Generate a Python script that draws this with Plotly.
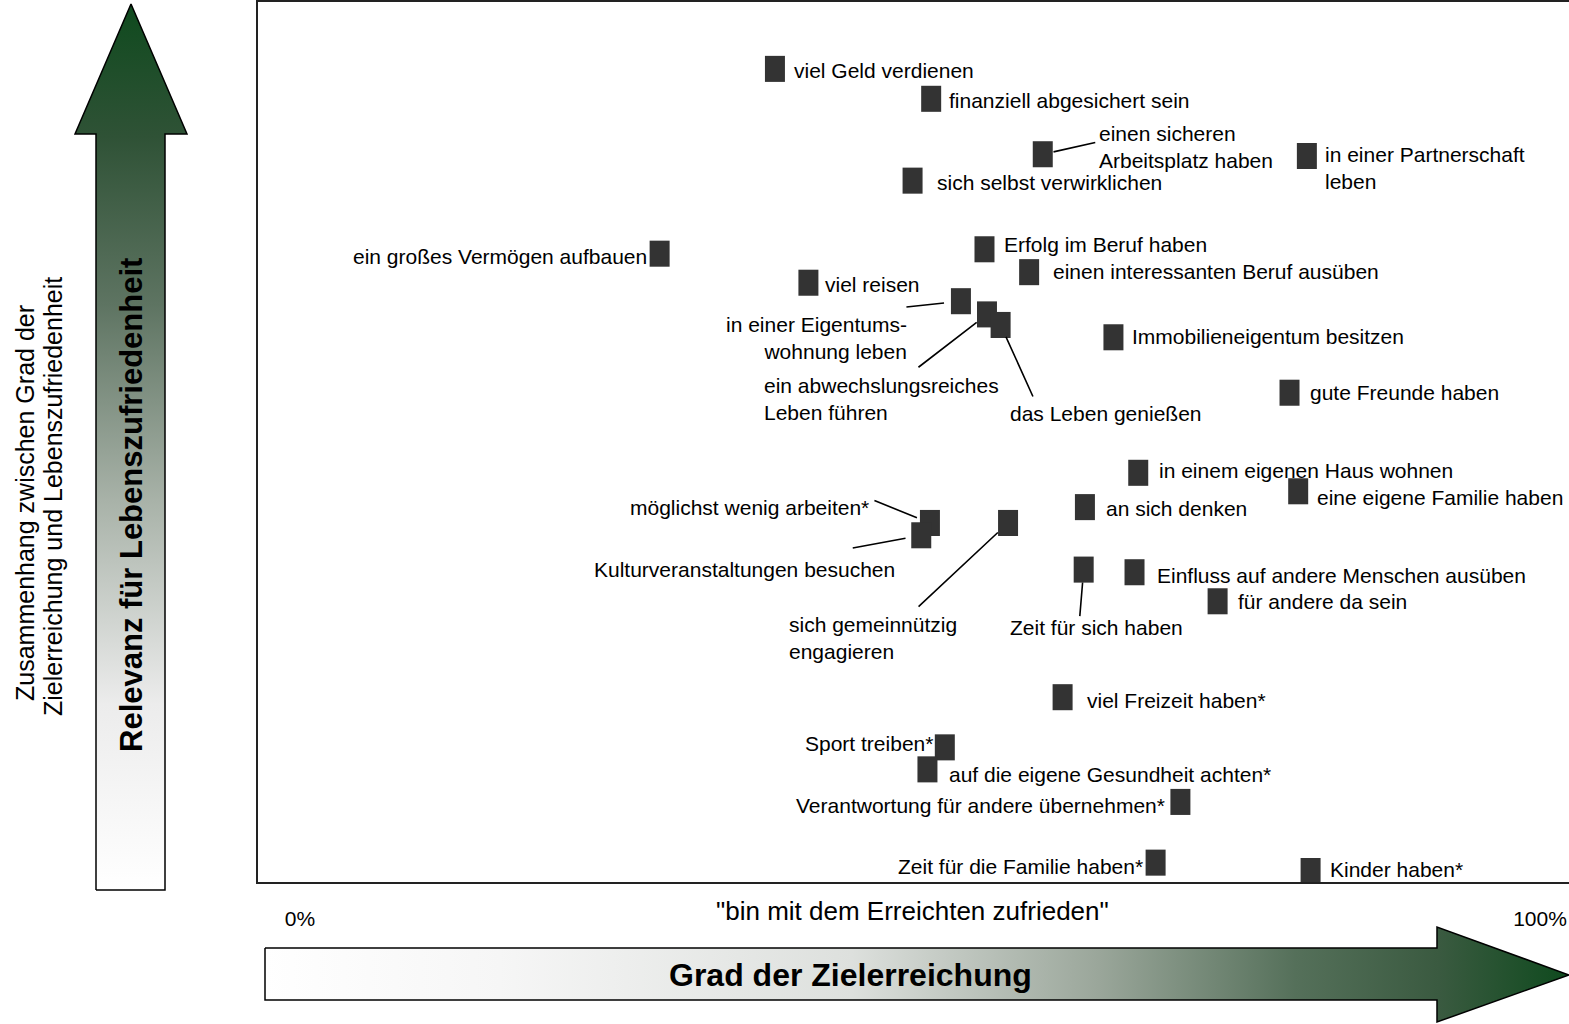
import plotly.graph_objects as go

# Ziele: Grad der Zielerreichung (in %) und Relevanz fuer Lebenszufriedenheit
labels = [
    "viel Geld verdienen",
    "finanziell abgesichert sein",
    "einen sicheren<br>Arbeitsplatz haben",
    "in einer Partnerschaft<br>leben",
    "sich selbst verwirklichen",
    "ein großes Vermögen aufbauen",
    "Erfolg im Beruf haben",
    "einen interessanten Beruf ausüben",
    "viel reisen",
    "in einer Eigentums-<br>wohnung leben",
    "ein abwechslungsreiches<br>Leben führen",
    "das Leben genießen",
    "Immobilieneigentum besitzen",
    "gute Freunde haben",
    "in einem eigenen Haus wohnen",
    "eine eigene Familie haben",
    "an sich denken",
    "möglichst wenig arbeiten*",
    "Kulturveranstaltungen besuchen",
    "sich gemeinnützig<br>engagieren",
    "Zeit für sich haben",
    "Einfluss auf andere Menschen ausüben",
    "für andere da sein",
    "viel Freizeit haben*",
    "Sport treiben*",
    "auf die eigene Gesundheit achten*",
    "Verantwortung für andere übernehmen*",
    "Zeit für die Familie haben*",
    "Kinder haben*",
]
zielerreichung = [38.3, 50.9, 59.9, 81.2, 49.4, 29.0, 55.2, 58.8, 41.0, 53.3,
                  55.4, 56.5, 65.6, 79.8, 67.6, 80.5, 63.3, 50.8, 50.1, 57.1,
                  63.2, 67.3, 74.0, 61.5, 52.0, 50.6, 71.0, 69.0, 81.5]
relevanz = [92.4, 89.0, 82.7, 82.5, 79.7, 71.4, 71.9, 69.3, 68.1, 66.0,
            64.5, 63.3, 61.9, 55.6, 46.5, 44.4, 42.6, 40.8, 39.4, 40.8,
            35.5, 35.2, 31.9, 21.0, 15.3, 12.8, 9.1, 2.2, 1.25]
tick_vals = [0, 100]
tick_text = ["0%", "100%"]

# label placement: (anchor, dx, dy) in pixels from the marker
label_pos = [
    ("left", 17, 2), ("left", 16, 2), ("left", 54, -7), ("left", 16, 12),
    ("left", 22, 2), ("right", -11, 3), ("left", 18, -5), ("left", 22, -1),
    ("left", 15, 2), ("right", -52, 37), ("left", -225, 85), ("left", 7, 89),
    ("left", 17, -1), ("left", 18, 0), ("left", 19, -2), ("left", 17, 6),
    ("left", 19, 1), ("right", -59, -15), ("right", -24, 34), ("left", -221, 115),
    ("left", -76, 58), ("left", 20, 3), ("left", 18, 0), ("left", 22, 3),
    ("right", -10, -4), ("left", 20, 5), ("right", -13, 4), ("right", -11, 4),
    ("left", 17, -2),
]
# leader lines: index -> (ax, ay, standoff)
leaders = {
    2: (54, -12, 11), 9: (-56, 6, 17), 10: (-70, 54, 13), 11: (33, 73, 13),
    17: (-57, -23, 14), 18: (-70, 13, 16), 19: (-91, 85, 14), 20: (-4, 48, 13),
}

W, H = 1569, 1024
FONT = "Liberation Sans, Arial, sans-serif"
GREEN = "#0f4a1e"

fig = go.Figure()

# gradient arrows on a full-page helper axis (pixel units, y up)
up_x = [96, 96, 75, 131, 187, 165, 165, 96]
up_y = [890, 134, 134, 4, 134, 134, 890, 890]
fig.add_trace(go.Scatter(
    x=up_x, y=[H - v for v in up_y], xaxis="x2", yaxis="y2", mode="lines",
    fill="toself", line=dict(color="black", width=1.5), hoverinfo="skip",
    showlegend=False,
    fillgradient=dict(type="vertical", colorscale=[
        [0, "#ffffff"], [0.21, "#ececec"], [0.44, "#a8b2a8"],
        [0.66, "#5e7462"], [0.85, "#2f5236"], [1, GREEN]]),
))
right_x = [265, 1437, 1437, 1569, 1437, 1437, 265, 265]
right_y = [948, 948, 927, 975, 1022, 1000, 1000, 948]
fig.add_trace(go.Scatter(
    x=right_x, y=[H - v for v in right_y], xaxis="x2", yaxis="y2", mode="lines",
    fill="toself", line=dict(color="black", width=1.5), hoverinfo="skip",
    showlegend=False,
    fillgradient=dict(type="horizontal", colorscale=[
        [0, "#ffffff"], [0.18, "#f6f6f6"], [0.45, "#dde0dd"],
        [0.64, "#9aa69a"], [0.79, "#55705a"], [0.9, "#3a5a40"], [1, GREEN]]),
))

# rectangular markers (20 x 26 px) from a thick vertical line symbol
fig.add_trace(go.Scatter(
    x=zielerreichung, y=relevanz, mode="markers",
    marker=dict(symbol="line-ns", size=18.6, color="#333333",
                line=dict(width=20, color="#333333")),
    cliponaxis=False, hoverinfo="text", text=labels, showlegend=False,
))

annotations = []
for i, lab in enumerate(labels):
    anchor, dx, dy = label_pos[i]
    annotations.append(dict(
        x=zielerreichung[i], y=relevanz[i], xref="x", yref="y", text=lab,
        showarrow=False, xanchor=anchor, yanchor="middle", align=anchor,
        xshift=dx, yshift=-dy, font=dict(size=21, color="black", family=FONT),
    ))
for i, (ax, ay, so) in leaders.items():
    annotations.append(dict(
        x=zielerreichung[i], y=relevanz[i], xref="x", yref="y", text="",
        showarrow=True, arrowhead=0, arrowwidth=1.6, arrowcolor="black",
        ax=ax, ay=ay, axref="pixel", ayref="pixel", standoff=so,
    ))


def px(v):
    return v / W


def py(v):
    return 1 - v / H


def page_text(x, y, text, size, angle=0):
    return dict(x=px(x), y=py(y), xref="paper", yref="paper", showarrow=False,
                xanchor="center", yanchor="middle", text=text, textangle=angle,
                font=dict(size=size, color="black", family=FONT))


annotations += [
    page_text(131, 505, "<b>Relevanz für Lebenszufriedenheit</b>", 31, -90),
    page_text(851, 975, "<b>Grad der Zielerreichung</b>", 32),
    page_text(25, 503, "Zusammenhang zwischen Grad der", 25, -90),
    page_text(53, 497, "Zielerreichung und Lebenszufriedenheit", 25, -90),
    page_text(912, 911, "\"bin mit dem Erreichten zufrieden\"", 26),
]

fig.update_layout(
    width=W, height=H, margin=dict(l=0, r=0, t=0, b=0),
    paper_bgcolor="white", plot_bgcolor="rgba(0,0,0,0)",
    font=dict(family=FONT, color="black"),
    xaxis=dict(domain=[258 / W, 1], range=[-3.39, 102.34], showgrid=False,
               zeroline=False, showline=True, mirror=True, linecolor="#222",
               linewidth=1.5, tickvals=tick_vals, ticktext=tick_text,
               ticks="", ticklabelstandoff=17,
               tickfont=dict(size=21, color="black", family=FONT)),
    yaxis=dict(domain=[1 - 882 / H, 1 - 2 / H], range=[0, 100], showgrid=False,
               zeroline=False, showline=True, mirror=False, linecolor="#222",
               linewidth=1.5, showticklabels=False, ticks=""),
    xaxis2=dict(domain=[0, 1], range=[0, W], visible=False, anchor="y2"),
    yaxis2=dict(domain=[0, 1], range=[0, H], visible=False, anchor="x2"),
    annotations=annotations,
)

fig.write_html("out.html", config={"displayModeBar": False},
               post_script="document.body.style.margin='0';")
